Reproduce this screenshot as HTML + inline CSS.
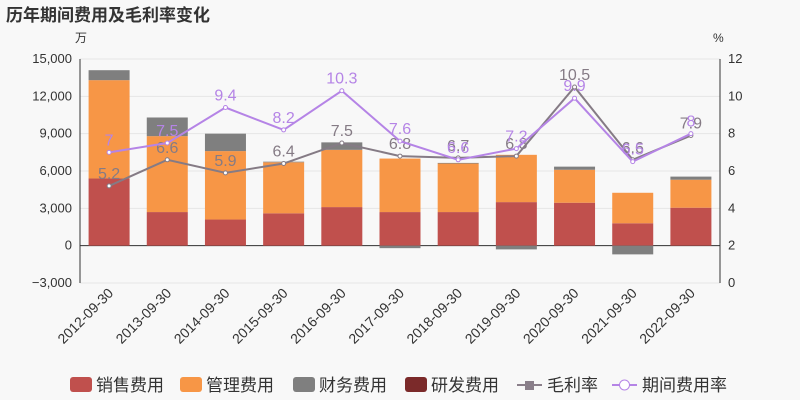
<!DOCTYPE html>
<html><head><meta charset="utf-8"><style>
body{margin:0;background:#f8f8f8;}
svg{display:block;font-family:"Liberation Sans","Noto Sans CJK SC",sans-serif;}
</style></head><body>
<svg id="c" width="800" height="400"></svg>
<script>
const categories=["2012-09-30","2013-09-30","2014-09-30","2015-09-30","2016-09-30","2017-09-30","2018-09-30","2019-09-30","2020-09-30","2021-09-30","2022-09-30"];
const sales=[5400,2700,2100,2600,3100,2700,2700,3500,3450,1800,3050];
const mgmt=[7900,6100,5500,4100,4600,4300,3900,3800,2650,2450,2250];
const finance=[800,1500,1400,50,600,-200,50,-300,250,-700,250];
const rnd=[0,0,0,0,0,0,0,0,0,0,0];
const gross=[5.2,6.6,5.9,6.4,7.5,6.8,6.7,6.8,10.5,6.6,7.9];
const rate=[7,7.5,9.4,8.2,10.3,7.6,6.6,7.2,9.9,6.5,8.0];
const leftTicks=[-3000,0,3000,6000,9000,12000,15000];
const rightTicks=[0,2,4,6,8,10,12];
const NS="http://www.w3.org/2000/svg";
const svg=document.getElementById('c');
function el(t,a,p){const e=document.createElementNS(NS,t);for(const k in a)e.setAttribute(k,a[k]);(p||svg).appendChild(e);return e;}
const X0=80,X1=720,Y0=59,Y1=283;
const yL=v=>Y1-(v+3000)/18000*(Y1-Y0);
const yR=v=>Y1-v/12*(Y1-Y0);
const bw=(X1-X0)/categories.length;
const xC=i=>X0+bw*(i+0.5);
let t=el('text',{x:6,y:21,'font-size':17,'font-weight':'bold',fill:'#333'});t.textContent='历年期间费用及毛利率变化';

t=el('text',{x:75,y:42,'font-size':12,fill:'#333'});t.textContent='万';

t=el('text',{x:713,y:42,'font-size':12,fill:'#333'});t.textContent='%';

leftTicks.forEach(v=>{const y=yL(v);
 let g=el('line',{x1:X0,x2:X1,y1:y,y2:y,stroke:'#e6e6e6'});
 
 let tx=el('text',{x:X0-8,y:y+4,'font-size':13,fill:'#333','text-anchor':'end'});tx.textContent=v.toLocaleString('en-US').replace('-','−');
 });
rightTicks.forEach(v=>{const y=yR(v);
 let tx=el('text',{x:X1+8,y:y+4,'font-size':13,fill:'#333'});tx.textContent=v;
 });
el('line',{x1:X0,x2:X0,y1:Y0,y2:Y1,stroke:'#333'});
el('line',{x1:X1,x2:X1,y1:Y0,y2:Y1,stroke:'#333'});
el('line',{x1:X0,x2:X1,y1:yL(0),y2:yL(0),stroke:'#333'});
const cols=['#c0504d','#f79646','#7f7f7f','#7b2a2a'];
const series=[sales,mgmt,finance,rnd];
const names=['bar-sales','bar-management','bar-finance','bar-rnd'];
categories.forEach((c,i)=>{
 let pos=0,neg=0;const x=xC(i)-20.5;
 series.forEach((s,k)=>{const v=s[i];if(!v)return;let a,b;
  if(v>=0){a=pos;b=pos+v;pos=b;}else{a=neg;b=neg+v;neg=b;}
  const r=el('rect',{x:x,width:41,y:Math.min(yL(a),yL(b)),height:Math.abs(yL(a)-yL(b)),fill:cols[k]});
  });
 const tx=el('text',{'font-size':14,fill:'#333','text-anchor':'end',transform:`translate(${xC(i)+5},${yL(-3000)+11}) rotate(-45)`});
 tx.textContent=c;
});
function line(d,color,name,lab){
 const p=el('polyline',{points:d.map((v,i)=>xC(i)+','+yR(v)).join(' '),fill:'none',stroke:color,'stroke-width':2});
 
 d.forEach((v,i)=>{const m=el('circle',{cx:xC(i),cy:yR(v),r:2,fill:'#fff',stroke:color});
  
  const tx=el('text',{x:xC(i),y:yR(v)-7,'font-size':16,fill:lab,'text-anchor':'middle'});tx.textContent=v;
  });
}
line(gross,'#857b85','gross-margin-line','#857b85');
line(rate,'#b584e6','period-rate-line','#b584e6');
const leg=[['rect',cols[0],'销售费用',70],['rect',cols[1],'管理费用',180],['rect',cols[2],'财务费用',293],['rect',cols[3],'研发费用',405],['line','#8a7f8a','毛利率',517],['circ','#b584e6','期间费用率',612]];
leg.forEach(([k,c,n,x])=>{const g=el('g',{});
 if(k==='rect')el('rect',{x:x,y:377,width:22,height:15,rx:3,fill:c},g);
 else{el('line',{x1:x,x2:x+25,y1:385,y2:385,stroke:c,'stroke-width':2},g);
  if(k==='line')el('rect',{x:x+8,y:381,width:9,height:9,fill:c},g);else el('circle',{cx:x+12.5,cy:385,r:5,fill:'#fff',stroke:c},g);}
 const tx=el('text',{x:x+(k==='rect'?26:30),y:391,'font-size':17,fill:'#333'},g);tx.textContent=n;});
</script></body></html>
